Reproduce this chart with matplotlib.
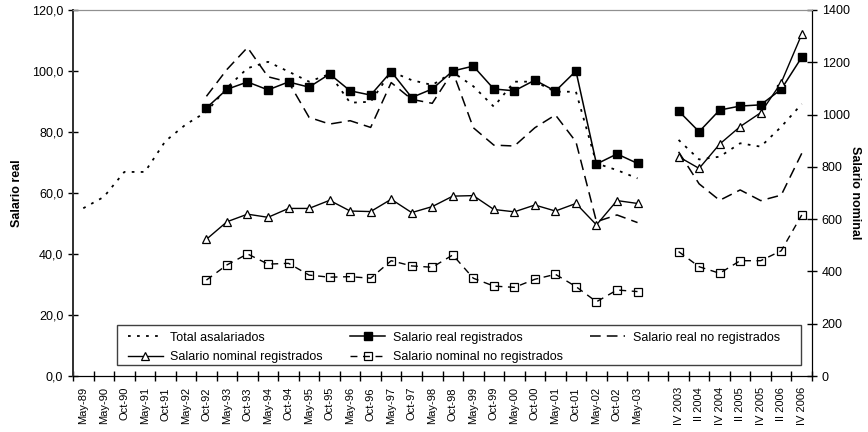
import matplotlib.pyplot as plt
import numpy as np
from matplotlib.patches import Rectangle
from matplotlib.ticker import FuncFormatter, FixedLocator

plt.rcParams['font.family'] = ['Liberation Sans', 'DejaVu Sans']

# periods on the x axis (one empty slot between the semester and quarterly series)
periods = ['May-89', 'May-90', 'Oct-90', 'May-91', 'Oct-91', 'May-92', 'Oct-92',
           'May-93', 'Oct-93', 'May-94', 'Oct-94', 'May-95', 'Oct-95', 'May-96',
           'Oct-96', 'May-97', 'Oct-97', 'May-98', 'Oct-98', 'May-99', 'Oct-99',
           'May-00', 'Oct-00', 'May-01', 'Oct-01', 'May-02', 'Oct-02', 'May-03',
           '', 'IV 2003', 'II 2004', 'IV 2004', 'II 2005', 'IV 2005', 'II 2006',
           'IV 2006']

nan = np.nan

# real wages (left axis)
total_asalariados = [55.0, 58.7, 66.9, 66.9, 77.0, 82.5, 86.6,
                     94.5, 100.9, 103.0, 99.8, 96.5, 99.0, 89.6,
                     89.9, 99.8, 97.0, 95.4, 99.6, 95.0, 88.3,
                     96.5, 96.5, 93.2, 93.2, 69.7, 67.5, 64.8,
                     nan, 77.4, 71.0, 71.9, 76.3, 75.2, 81.7, 89.2]

real_registrados = [nan, nan, nan, nan, nan, nan, 87.9,
                    94.0, 96.4, 93.8, 96.4, 94.7, 99.0, 93.5,
                    92.1, 99.8, 91.3, 94.1, 100.0, 101.6, 94.1,
                    93.5, 97.0, 93.4, 100.0, 69.5, 72.8, 69.7,
                    nan, 86.9, 80.1, 87.2, 88.5, 88.9, 94.0, 104.5]

real_no_registrados = [nan, nan, nan, nan, nan, nan, 91.7,
                       100.5, 107.7, 98.1, 96.4, 84.8, 82.6, 83.7,
                       81.5, 96.2, 90.7, 89.4, 99.8, 81.4, 75.7,
                       75.4, 81.4, 85.6, 76.8, 50.6, 52.8, 50.3,
                       nan, 73.5, 63.0, 57.6, 61.0, 57.5, 59.3, 73.0]

# nominal wages (right axis)
nominal_registrados = [nan, nan, nan, nan, nan, nan, 523,
                       590, 619, 607, 641, 641, 672, 631,
                       629, 676, 625, 648, 688, 690, 637,
                       628, 654, 631, 660, 578, 671, 660,
                       nan, 839, 794, 887, 954, 1007, 1122, 1307]

nominal_no_registrados = [nan, nan, nan, nan, nan, nan, 367,
                          425, 467, 428, 431, 386, 378, 380,
                          374, 441, 421, 416, 463, 374, 344,
                          339, 370, 389, 342, 284, 329, 323,
                          nan, 476, 418, 393, 441, 441, 479, 616]

x = np.arange(len(periods))

fig = plt.figure(figsize=(8.68, 4.32), dpi=100)
ax = fig.add_axes([0.0841, 0.1296, 0.8514, 0.8473])
ax2 = ax.twinx()

ax.plot(x, total_asalariados, color='black', lw=1.3, ls=(0, (1.5, 3.5)),
        label='Total asalariados')
ax.plot(x, real_registrados, color='black', lw=1.1, marker='s', ms=6,
        label='Salario real registrados')
ax.plot(x, real_no_registrados, color='black', lw=1.1, ls=(0, (7, 4)),
        label='Salario real no registrados')
ax2.plot(x, nominal_registrados, color='black', lw=1.0, marker='^', ms=6,
         mfc='white', mec='black', mew=0.9, label='Salario nominal registrados')
ax2.plot(x, nominal_no_registrados, color='black', lw=1.0, ls=(0, (5, 4)),
         marker='s', ms=6, mfc='none', mec='black', mew=0.9,
         label='Salario nominal no registrados')

ax.set_xlim(-0.5, len(periods) - 0.5)
ax.set_ylim(0, 120)
ax2.set_ylim(0, 1400)
ax.set_yticks(np.arange(0, 121, 20))
ax2.set_yticks(np.arange(0, 1401, 200))
ax.yaxis.set_major_formatter(FuncFormatter(lambda v, p: f'{v:.1f}'.replace('.', ',')))

# tick marks between categories, labels centred on them
ax.xaxis.set_major_locator(FixedLocator(np.arange(-0.5, len(periods), 1.0)))
ax.xaxis.set_minor_locator(FixedLocator(x))
ax.set_xticklabels([], minor=False)
ax.set_xticklabels(periods, minor=True, rotation=90, fontsize=8)
ax.tick_params(axis='x', which='major', direction='inout', length=7, width=1)
ax.tick_params(axis='x', which='minor', length=0, pad=8)
ax.tick_params(axis='y', direction='inout', length=7, width=1, labelsize=9)
ax2.tick_params(axis='y', direction='inout', length=7, width=1, labelsize=9)

for a in (ax, ax2):
    a.spines['top'].set_color('#909090')
    a.spines['left'].set_color('#333333')
    a.spines['left'].set_linewidth(1.3)
    a.spines['right'].set_color('black')
    a.spines['bottom'].set_color('black')

ax.set_ylabel('Salario real', fontsize=9, fontweight='bold')
ax.yaxis.set_label_coords(-0.068, 0.5)
ax2.set_ylabel('Salario nominal', fontsize=9, fontweight='bold', rotation=270,
               va='center')
ax2.yaxis.set_label_coords(1.058, 0.5)

# legend box spans most of the bottom of the plot
ax2.add_patch(Rectangle((0.0595, 0.030), 0.925, 0.109, transform=ax2.transAxes,
                        facecolor='white', edgecolor='#404040', lw=1.0, zorder=4))
h1, l1 = ax.get_legend_handles_labels()
h2, l2 = ax2.get_legend_handles_labels()
handles = [h1[0], h2[0], h1[1], h2[1], h1[2]]
labels = [l1[0], l2[0], l1[1], l2[1], l1[2]]
leg = ax2.legend(handles, labels, ncol=3, fontsize=9, frameon=False,
                 bbox_to_anchor=(0.069, 0.131), loc='upper left',
                 borderaxespad=0, borderpad=0.3, handlelength=2.8,
                 handletextpad=0.6, columnspacing=2.2, labelspacing=0.6)
leg.set_zorder(5)

fig.savefig('out.png', dpi=100)
